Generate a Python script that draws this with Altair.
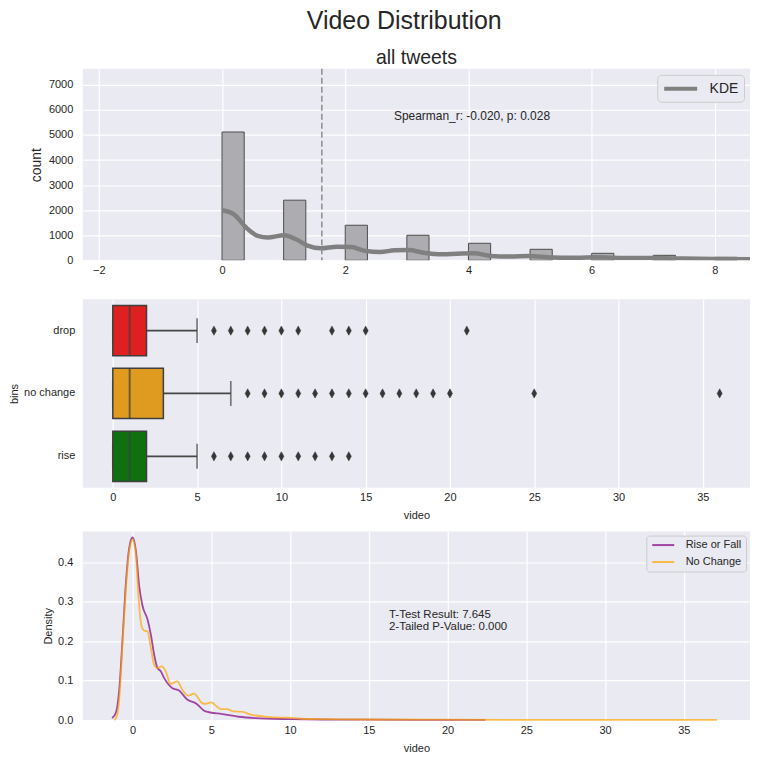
import altair as alt
import pandas as pd

# ---- panel 1: all tweets, histogram + KDE ----
hist_start = [0, 1, 2, 3, 4, 5, 6, 7, 8]
hist_count = [5120, 2400, 1400, 1000, 680, 440, 280, 200, 120]
hist_width = 0.36

kde_x = [0.0, 0.19, 0.39, 0.58, 0.74, 1.01, 1.2, 1.4, 1.6, 1.87, 2.1, 2.33, 2.57, 2.8,
         3.03, 3.27, 3.58, 3.81, 4.09, 4.36, 4.67, 4.98, 5.37, 5.76, 6.07, 6.54, 7.0,
         7.47, 8.0, 8.6]
kde_count = [2000, 1840, 1310, 975, 910, 1000, 840, 575, 480, 545, 530, 375, 335, 400,
             410, 305, 240, 265, 280, 175, 150, 170, 110, 105, 120, 95, 90, 70, 55, 45]

mean_video = 1.62
spearman_label = "Spearman_r: -0.020, p: 0.028"

# ---- panel 2: boxplots per bin ----
bins = ["drop", "no change", "rise"]
box_q1 = [0, 0, 0]
box_med = [1, 1, 1]
box_q3 = [2, 3, 2]
whisk_lo = [0, 0, 0]
whisk_hi = [5, 7, 5]
box_colours = ["#df2020", "#df9a20", "#107010"]
outliers_drop = [6, 7, 8, 9, 10, 11, 13, 14, 15, 21]
outliers_no_change = [8, 9, 10, 11, 12, 13, 14, 15, 16, 17, 18, 19, 20, 25, 36]
outliers_rise = [6, 7, 8, 9, 10, 11, 12, 13, 14]

# ---- panel 3: KDE, rise/fall vs no change ----
rf_x = [-1.3, -1.05, -0.84, -0.63, -0.42, -0.2, 0.0, 0.21, 0.42, 0.63, 0.95, 1.16, 1.37,
        1.58, 1.79, 2.0, 2.53, 2.95, 3.47, 4.0, 4.63, 5.7, 6.74, 7.8, 9.9, 12, 15, 18, 22.4]
rf_y = [0.005, 0.02, 0.08, 0.21, 0.35, 0.44, 0.463, 0.43, 0.34, 0.29, 0.255, 0.217, 0.166,
        0.132, 0.124, 0.107, 0.081, 0.075, 0.052, 0.043, 0.022, 0.015, 0.0085, 0.005,
        0.0025, 0.0015, 0.001, 0.0006, 0.0003]

nc_x = [-1.16, -1.0, -0.84, -0.63, -0.42, -0.21, 0.0, 0.21, 0.38, 0.57, 0.74, 0.95, 1.16,
        1.37, 1.58, 1.85, 2.1, 2.42, 2.84, 3.16, 3.54, 3.9, 4.42, 4.6, 5.0, 5.3, 5.6, 6.0,
        6.4, 7.0, 7.4, 8.4, 9.05, 9.9, 10.7, 12, 15, 20, 25, 30, 37.1]
nc_y = [0.0, 0.01, 0.056, 0.2, 0.336, 0.43, 0.458, 0.42, 0.31, 0.238, 0.227, 0.225, 0.183,
        0.14, 0.132, 0.136, 0.124, 0.092, 0.098, 0.077, 0.062, 0.067, 0.043, 0.041, 0.045,
        0.036, 0.028, 0.028, 0.022, 0.021, 0.015, 0.009, 0.007, 0.006, 0.0034, 0.0025,
        0.0015, 0.001, 0.0007, 0.0005, 0.0003]

ttest_lines = ["T-Test Result: 7.645", "2-Tailed P-Value: 0.000"]
ttest_line_y = [0.2815, 0.2515]
ttest_line_dx = [0, 3]

BG = "#EAEAF2"
TXT = "#262626"
FONT = "Liberation Sans"
W = 669

# panel 1
hist_df = pd.DataFrame({"start": hist_start, "count": hist_count})
hist_df["end"] = hist_df["start"] + hist_width
x1 = alt.Scale(domain=[-2.26, 8.57], nice=False, zero=False)
y1 = alt.Scale(domain=[0, 7640], nice=False)
x1_axis = alt.Axis(values=[-2, 0, 2, 4, 6, 8], format="d", title=" ", titleFontSize=11,
                   titlePadding=2)
y1_axis = alt.Axis(values=list(range(0, 7001, 1000)), format="d", title="count",
                   titleFontSize=14, titlePadding=4.5, labelPadding=10, labelOverlap=False)

bars = alt.Chart(hist_df).mark_rect(fill="#adadb1", stroke="#4d4d4d", strokeWidth=1, clip=True).encode(
    x=alt.X("start:Q", scale=x1, axis=x1_axis),
    x2="end:Q",
    y=alt.Y("count:Q", scale=y1, axis=y1_axis),
    y2=alt.datum(0),
)

kde_df = pd.DataFrame({"start": kde_x, "count": kde_count, "series": "KDE"})
kde_line = alt.Chart(kde_df).mark_line(strokeWidth=4.5, interpolate="monotone", clip=True).encode(
    x=alt.X("start:Q", scale=x1, axis=x1_axis),
    y=alt.Y("count:Q", scale=y1, axis=y1_axis),
    color=alt.Color("series:N", scale=alt.Scale(domain=["KDE"], range=["#808080"]),
                    legend=alt.Legend(title=None, orient="top-right", offset=6,
                                      symbolType="M-2.36,0L2.36,0", symbolSize=196,
                                      symbolStrokeWidth=4, symbolOffset=9.5, labelOffset=20,
                                      labelFontSize=14, fillColor=BG, strokeColor="#cccccc",
                                      cornerRadius=4, padding=5)),
)

mean_rule = alt.Chart(pd.DataFrame({"start": [mean_video]})).mark_rule(
    color="#8c8c8c", strokeDash=[6, 3], strokeWidth=1.5).encode(
    x=alt.X("start:Q", scale=x1, axis=x1_axis))

spear = alt.Chart(pd.DataFrame({"start": [2.79], "count": [5970], "t": [spearman_label]})).mark_text(
    align="left", baseline="top", fontSize=12, font=FONT, color=TXT).encode(
    x=alt.X("start:Q", scale=x1, axis=x1_axis),
    y=alt.Y("count:Q", scale=y1, axis=y1_axis),
    text="t:N")

panel1 = alt.layer(bars, kde_line, mean_rule, spear).properties(
    width=W, height=192,
    title=alt.TitleParams("all tweets", fontSize=19.5, anchor="middle", frame="group", offset=0),
)

# panel 2
box_df = pd.DataFrame({"bins": bins, "q1": box_q1, "med": box_med, "q3": box_q3,
                       "lo": whisk_lo, "hi": whisk_hi, "colour": box_colours})
out_df = pd.DataFrame({
    "bins": ["drop"] * len(outliers_drop) + ["no change"] * len(outliers_no_change)
            + ["rise"] * len(outliers_rise),
    "video": outliers_drop + outliers_no_change + outliers_rise,
})
x2s = alt.Scale(domain=[-1.78, 37.8], nice=False, zero=False)
x2_axis = alt.Axis(values=list(range(0, 36, 5)), format="d", title="video", titlePadding=7)
ybins = alt.Y("bins:N", scale=alt.Scale(domain=bins, paddingInner=0.2, paddingOuter=0.1),
              axis=alt.Axis(title="bins", grid=False, titlePadding=4, labelPadding=8))

whiskers = alt.Chart(box_df).mark_rule(color="#464646", strokeWidth=1.7).encode(
    x=alt.X("q3:Q", scale=x2s, axis=x2_axis), x2="hi:Q", y=ybins)
caps = alt.Chart(box_df).mark_tick(color="#464646", size=25, thickness=1.7).encode(
    x=alt.X("hi:Q", scale=x2s, axis=x2_axis), y=ybins)
caps_lo = alt.Chart(box_df).mark_tick(color="#464646", size=25, thickness=1.7).encode(
    x=alt.X("lo:Q", scale=x2s, axis=x2_axis), y=ybins)
boxes = alt.Chart(box_df).mark_bar(stroke="#3f3f3f", strokeWidth=1.5).encode(
    x=alt.X("q1:Q", scale=x2s, axis=x2_axis), x2="q3:Q", y=ybins,
    color=alt.Color("colour:N", scale=None))
medians = alt.Chart(box_df).mark_tick(color="#3f3f3f", size=50, thickness=2).encode(
    x=alt.X("med:Q", scale=x2s, axis=x2_axis), y=ybins)
fliers = alt.Chart(out_df).mark_point(
    shape="M0,-1L0.55,0L0,1L-0.55,0Z", size=85, filled=True, fill="#363636", opacity=1,
    stroke="#363636", strokeWidth=0.5).encode(x=alt.X("video:Q", scale=x2s, axis=x2_axis), y=ybins)

panel2 = alt.layer(whiskers, caps, caps_lo, boxes, medians, fliers).properties(width=W, height=189)

# panel 3
kde3 = pd.concat([
    pd.DataFrame({"video": rf_x, "density": rf_y, "group": "Rise or Fall", "o": range(len(rf_x))}),
    pd.DataFrame({"video": nc_x, "density": nc_y, "group": "No Change", "o": range(len(nc_x))}),
])
x3s = alt.Scale(domain=[-3.16, 39.2], nice=False, zero=False)
y3s = alt.Scale(domain=[0, 0.478], nice=False)
x3_axis = alt.Axis(values=list(range(0, 36, 5)), format="d", title="video", titlePadding=7)
y3_axis = alt.Axis(values=[0, 0.1, 0.2, 0.3, 0.4], format=".1f", title="Density",
                   titlePadding=4.5, labelPadding=10)
lines = alt.Chart(kde3).mark_line(strokeWidth=1.8, opacity=0.7, interpolate="monotone").encode(
    x=alt.X("video:Q", scale=x3s, axis=x3_axis),
    y=alt.Y("density:Q", scale=y3s, axis=y3_axis),
    color=alt.Color("group:N", scale=alt.Scale(domain=["Rise or Fall", "No Change"],
                                               range=["purple", "orange"]),
                    legend=alt.Legend(title=None, orient="top-right", offset=4,
                                      symbolType="M-3.15,0L3.15,0", symbolSize=49,
                                      symbolStrokeWidth=2, symbolOpacity=0.7, symbolOffset=7.5,
                                      labelOffset=17, labelFontSize=11, fillColor=BG,
                                      strokeColor="#cccccc", cornerRadius=3, padding=4,
                                      rowPadding=5)),
    order="o:Q",
)
ttest_df = pd.DataFrame({"video": [16.28, 16.28], "density": ttest_line_y,
                         "t": ttest_lines, "dx": ttest_line_dx})
ttest = alt.Chart(ttest_df).mark_text(
    align="left", baseline="top", fontSize=11.5, font=FONT, color=TXT).encode(
    x=alt.X("video:Q", scale=x3s, axis=x3_axis),
    y=alt.Y("density:Q", scale=y3s, axis=y3_axis),
    xOffset=alt.XOffset("dx:Q", scale=None),
    text="t:N")

panel3 = alt.layer(lines, ttest).properties(width=W, height=189)

chart = alt.vconcat(panel1, panel2, panel3, spacing=11).resolve_scale(
    x="independent", y="independent", color="independent"
).resolve_legend(color="independent").properties(
    title=alt.TitleParams("Video Distribution", fontSize=25, anchor="middle", dx=25, offset=13.5),
    padding={"left": 0, "top": 0, "right": 0, "bottom": 0},
    background="white",
).configure_view(fill=BG, stroke=None).configure_axis(
    domain=False, ticks=False, labelFont=FONT, labelFontSize=11, labelColor=TXT,
    titleFont=FONT, titleFontSize=11, titleColor=TXT, titleFontWeight="normal",
    gridColor="white", gridWidth=1.2, labelPadding=4,
).configure_title(font=FONT, color=TXT, fontWeight="normal").configure_legend(
    labelFont=FONT, labelColor=TXT
)

chart.save("out.html", embed_options={"renderer": "svg", "actions": False})
